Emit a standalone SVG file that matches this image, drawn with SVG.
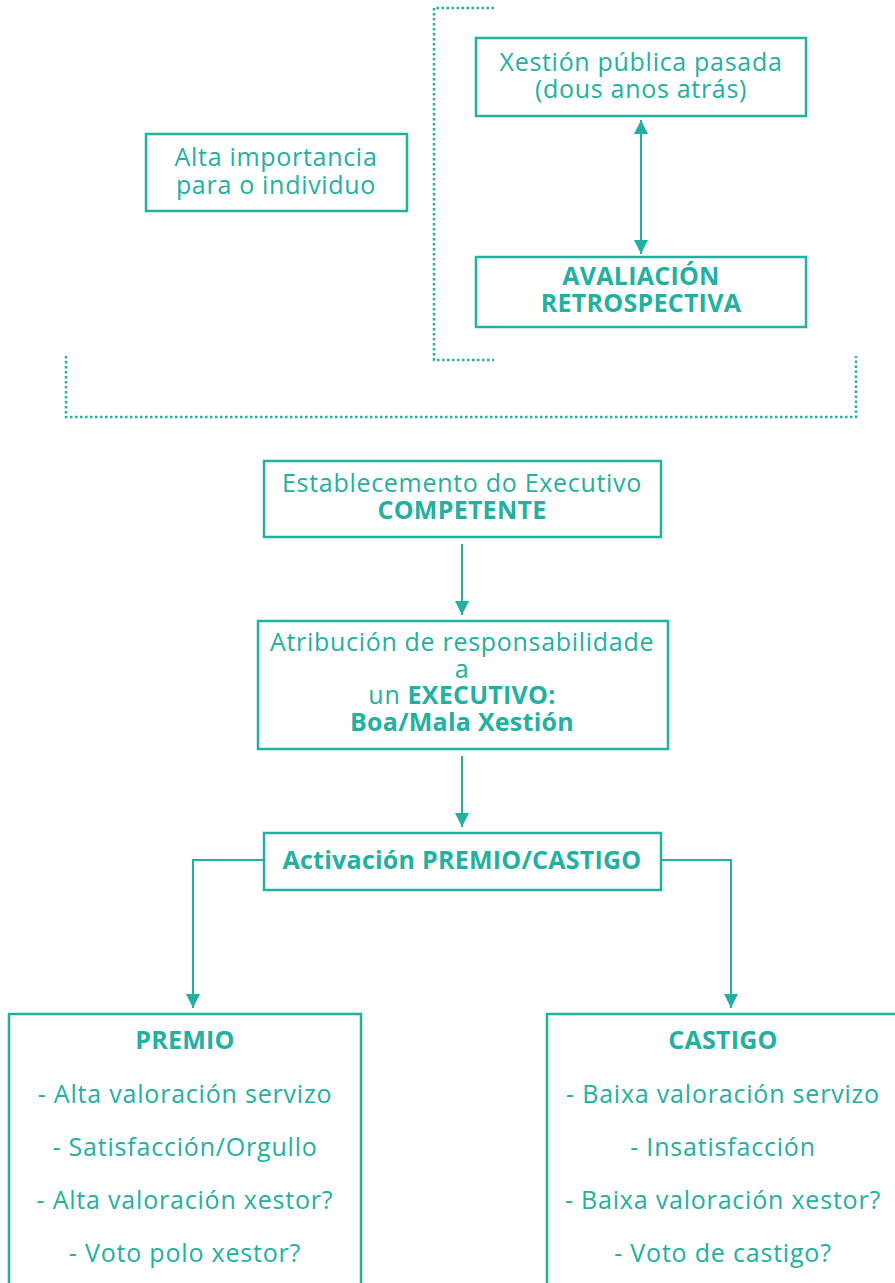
<svg xmlns="http://www.w3.org/2000/svg" width="895" height="1283" viewBox="0 0 895 1283">
<style>
.box{fill:#fff;stroke:#22b0a0;stroke-width:2.5}
.t{font-family:"Open Sans","Noto Sans",sans-serif;font-size:25px;font-weight:500;letter-spacing:0.7px;fill:#22b0a0;text-anchor:middle}
.b{font-weight:bold;letter-spacing:0.25px}
.big{letter-spacing:0.8px}
.dot{fill:none;stroke:#22b0a0;stroke-width:2.5;stroke-dasharray:2.5 2.5}
.ln{fill:none;stroke:#22b0a0;stroke-width:2}
</style>
<defs>
<marker id="ah" viewBox="0 0 10 10" refX="10" refY="5" markerWidth="14" markerHeight="14" markerUnits="userSpaceOnUse" orient="auto-start-reverse">
<path d="M0,0 L10,5 L0,10 Z" fill="#22b0a0"/>
</marker>
</defs>
<g id="connectors">
<path class="dot" d="M494,8 H434 V360 H494"/>
<path class="dot" d="M66,356 V417 H856 V356"/>
<line class="ln" x1="641" y1="120" x2="641" y2="254" marker-start="url(#ah)" marker-end="url(#ah)"/>
<line class="ln" x1="462" y1="544" x2="462" y2="615" marker-end="url(#ah)"/>
<line class="ln" x1="462" y1="756" x2="462" y2="827" marker-end="url(#ah)"/>
<path class="ln" d="M264,860 H193 V1008" marker-end="url(#ah)"/>
<path class="ln" d="M661,860 H731 V1008" marker-end="url(#ah)"/>
</g>
<g id="alta">
<rect class="box" x="146" y="134" width="261" height="77"/>
<text class="t" x="276" y="166">Alta importancia</text>
<text class="t" x="276" y="194">para o individuo</text>
</g>
<g id="xestion">
<rect class="box" x="476" y="38" width="330" height="78"/>
<text class="t" x="641" y="71">Xestión pública pasada</text>
<text class="t" x="641" y="98">(dous anos atrás)</text>
</g>
<g id="avaliacion">
<rect class="box" x="476" y="257" width="330" height="70"/>
<text class="t b" x="641" y="285">AVALIACIÓN</text>
<text class="t b" x="641" y="312">RETROSPECTIVA</text>
</g>
<g id="establecemento">
<rect class="box" x="264" y="461" width="397" height="76"/>
<text class="t" x="462" y="492">Establecemento do Executivo</text>
<text class="t b" x="462" y="519">COMPETENTE</text>
</g>
<g id="atribucion">
<rect class="box" x="258" y="621" width="410" height="128"/>
<text class="t" x="462" y="651">Atribución de responsabilidade</text>
<text class="t" x="462" y="678">a</text>
<text class="t" x="462" y="704">un <tspan class="b">EXECUTIVO:</tspan></text>
<text class="t b" x="462" y="731">Boa/Mala Xestión</text>
</g>
<g id="activacion">
<rect class="box" x="264" y="833" width="397" height="57"/>
<text class="t b" x="462" y="869">Activación PREMIO/CASTIGO</text>
</g>
<g id="premio">
<rect class="box" x="9" y="1014" width="352" height="280"/>
<text class="t b" x="185" y="1049">PREMIO</text>
<text class="t big" x="185" y="1103">- Alta valoración servizo</text>
<text class="t big" x="185" y="1156">- Satisfacción/Orgullo</text>
<text class="t big" x="185" y="1209">- Alta valoración xestor?</text>
<text class="t big" x="185" y="1262">- Voto polo xestor?</text>
</g>
<g id="castigo">
<rect class="box" x="547" y="1014" width="360" height="280"/>
<text class="t b" x="723" y="1049">CASTIGO</text>
<text class="t big" x="723" y="1103">- Baixa valoración servizo</text>
<text class="t big" x="723" y="1156">- Insatisfacción</text>
<text class="t big" x="723" y="1209">- Baixa valoración xestor?</text>
<text class="t big" x="723" y="1262">- Voto de castigo?</text>
</g>
</svg>
